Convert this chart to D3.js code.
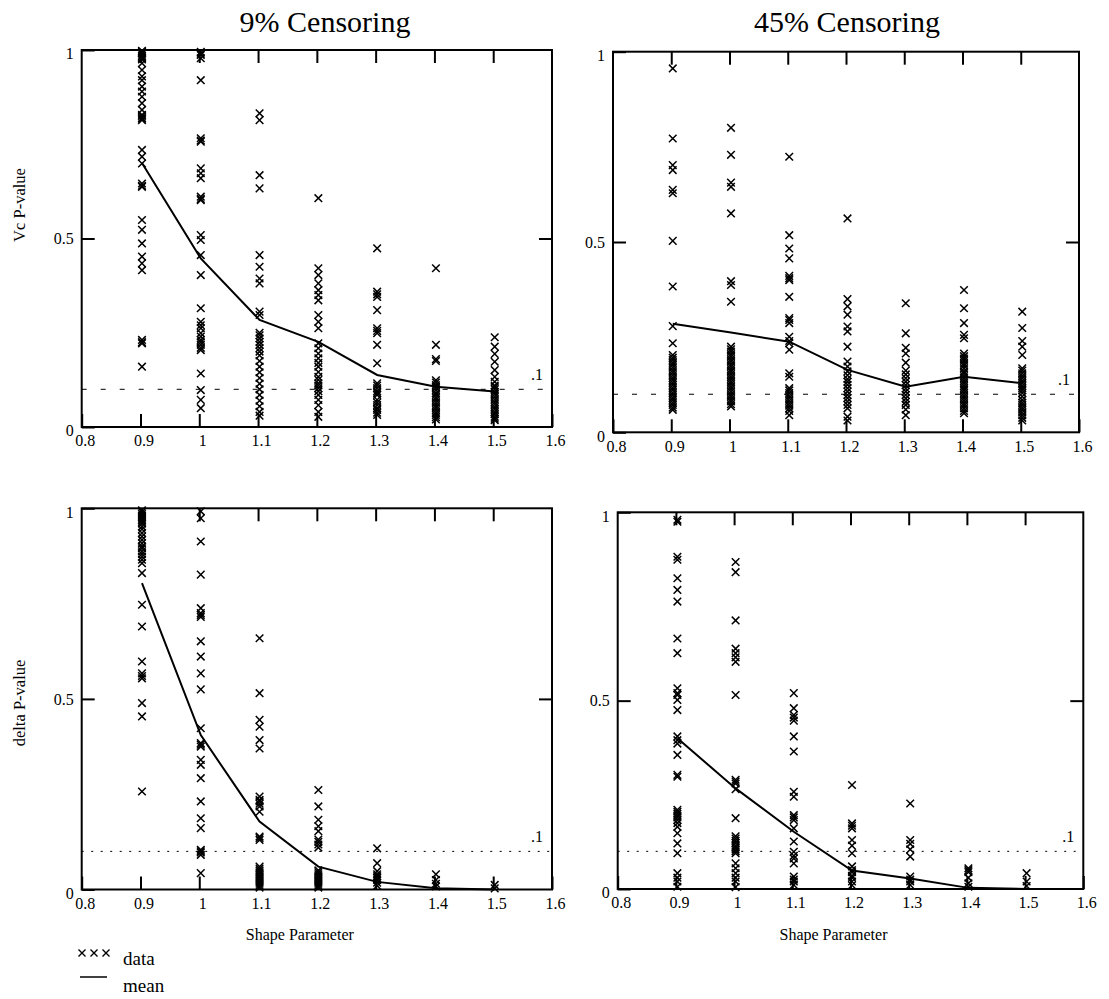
<!DOCTYPE html>
<html>
<head>
<meta charset="utf-8">
<script src="https://cdn.jsdelivr.net/npm/d3@7/dist/d3.min.js"></script>
<style>
  html, body { margin: 0; padding: 0; background: #fff; }
  svg { display: block; }
  text { font-family: "Liberation Serif", "Times New Roman", serif; fill: #000; }
</style>
</head>
<body>
<svg id="chart" width="1109" height="999"></svg>
<script>
// ---------- data ----------
const shapes = [0.9, 1.0, 1.1, 1.2, 1.3, 1.4, 1.5];
const xTicks = [0.8, 0.9, 1.0, 1.1, 1.2, 1.3, 1.4, 1.5, 1.6];
const xTickLabels = ["0.8", "0.9", "1", "1.1", "1.2", "1.3", "1.4", "1.5", "1.6"];
const yTicks = [0, 0.5, 1];
const yTickLabels = ["0", "0.5", "1"];
const titles = ["9% Censoring", "45% Censoring"];
const yLabels = ["Vc P-value", "delta P-value"];
const xLabel = "Shape Parameter";
const refLevel = 0.1;

// Vc p-values, 9% censoring (one list per shape parameter)
const vc9 = [
  [0.998, 0.995, 0.992, 0.99, 0.985, 0.98, 0.978, 0.975, 0.965, 0.947, 0.93, 0.92, 0.903, 0.89, 0.876, 0.859, 0.841, 0.828, 0.825, 0.82, 0.818, 0.814, 0.735, 0.717, 0.699, 0.646, 0.64, 0.637, 0.549, 0.523, 0.487, 0.452, 0.434, 0.416, 0.231, 0.225, 0.222, 0.16],
  [0.995, 0.99, 0.987, 0.978, 0.92, 0.766, 0.76, 0.757, 0.686, 0.673, 0.66, 0.611, 0.605, 0.602, 0.509, 0.496, 0.456, 0.403, 0.315, 0.279, 0.27, 0.262, 0.249, 0.24, 0.231, 0.225, 0.218, 0.21, 0.204, 0.142, 0.098, 0.072, 0.05],
  [0.832, 0.814, 0.668, 0.633, 0.456, 0.425, 0.394, 0.381, 0.306, 0.297, 0.25, 0.243, 0.235, 0.226, 0.218, 0.209, 0.2, 0.19, 0.175, 0.16, 0.145, 0.13, 0.115, 0.1, 0.085, 0.07, 0.055, 0.04, 0.03],
  [0.607, 0.421, 0.403, 0.381, 0.363, 0.35, 0.336, 0.297, 0.279, 0.262, 0.222, 0.209, 0.195, 0.182, 0.17, 0.16, 0.146, 0.133, 0.125, 0.116, 0.11, 0.103, 0.095, 0.085, 0.072, 0.058, 0.04, 0.027],
  [0.474, 0.359, 0.352, 0.345, 0.31, 0.262, 0.255, 0.249, 0.218, 0.169, 0.116, 0.11, 0.103, 0.095, 0.09, 0.085, 0.072, 0.065, 0.058, 0.05, 0.045, 0.038, 0.032],
  [0.421, 0.218, 0.18, 0.175, 0.124, 0.118, 0.111, 0.105, 0.098, 0.09, 0.085, 0.078, 0.072, 0.065, 0.058, 0.052, 0.045, 0.038, 0.032, 0.026, 0.02],
  [0.238, 0.213, 0.194, 0.173, 0.151, 0.133, 0.12, 0.11, 0.106, 0.1, 0.093, 0.087, 0.08, 0.073, 0.066, 0.06, 0.053, 0.047, 0.04, 0.034, 0.027, 0.022, 0.018]
];
const vc9Mean = [0.70, 0.447, 0.284, 0.226, 0.138, 0.107, 0.094];

// Vc p-values, 45% censoring
const vc45 = [
  [0.956, 0.772, 0.702, 0.689, 0.637, 0.628, 0.503, 0.383, 0.279, 0.234, 0.203, 0.196, 0.19, 0.183, 0.177, 0.17, 0.163, 0.157, 0.15, 0.143, 0.137, 0.13, 0.124, 0.117, 0.111, 0.104, 0.098, 0.091, 0.085, 0.078, 0.072, 0.065, 0.059],
  [0.8, 0.729, 0.656, 0.645, 0.575, 0.397, 0.387, 0.343, 0.225, 0.218, 0.212, 0.205, 0.199, 0.192, 0.186, 0.179, 0.173, 0.166, 0.16, 0.153, 0.146, 0.14, 0.133, 0.127, 0.12, 0.114, 0.107, 0.1, 0.094, 0.087, 0.081, 0.074, 0.068],
  [0.724, 0.518, 0.483, 0.457, 0.411, 0.405, 0.4, 0.356, 0.3, 0.295, 0.287, 0.251, 0.24, 0.234, 0.217, 0.155, 0.146, 0.116, 0.11, 0.103, 0.096, 0.09, 0.083, 0.076, 0.07, 0.063, 0.056, 0.045],
  [0.562, 0.35, 0.331, 0.309, 0.278, 0.265, 0.225, 0.186, 0.173, 0.16, 0.15, 0.14, 0.133, 0.125, 0.116, 0.107, 0.098, 0.09, 0.081, 0.072, 0.063, 0.041, 0.031],
  [0.339, 0.26, 0.222, 0.207, 0.183, 0.162, 0.152, 0.142, 0.133, 0.124, 0.115, 0.107, 0.098, 0.089, 0.08, 0.072, 0.06, 0.045],
  [0.374, 0.326, 0.287, 0.256, 0.247, 0.207, 0.2, 0.194, 0.188, 0.181, 0.175, 0.168, 0.16, 0.155, 0.148, 0.142, 0.135, 0.129, 0.122, 0.116, 0.11, 0.103, 0.096, 0.09, 0.083, 0.076, 0.07, 0.063, 0.056, 0.05],
  [0.317, 0.274, 0.24, 0.225, 0.203, 0.168, 0.162, 0.155, 0.148, 0.142, 0.135, 0.129, 0.122, 0.116, 0.11, 0.103, 0.094, 0.085, 0.078, 0.072, 0.065, 0.059, 0.052, 0.045, 0.038, 0.031]
];
const vc45Mean = [0.285, 0.262, 0.238, 0.164, 0.120, 0.146, 0.129];

// delta p-values, 9% censoring
const delta9 = [
  [0.995, 0.99, 0.985, 0.98, 0.975, 0.97, 0.965, 0.96, 0.952, 0.945, 0.935, 0.926, 0.917, 0.908, 0.9, 0.895, 0.887, 0.88, 0.873, 0.865, 0.856, 0.83, 0.747, 0.69, 0.598, 0.567, 0.56, 0.554, 0.489, 0.454, 0.257],
  [0.992, 0.974, 0.913, 0.826, 0.738, 0.725, 0.72, 0.715, 0.651, 0.611, 0.567, 0.525, 0.423, 0.384, 0.38, 0.375, 0.34, 0.327, 0.292, 0.231, 0.187, 0.161, 0.104, 0.1, 0.097, 0.091, 0.043],
  [0.659, 0.515, 0.445, 0.427, 0.392, 0.37, 0.244, 0.235, 0.231, 0.225, 0.218, 0.204, 0.139, 0.135, 0.13, 0.06, 0.055, 0.05, 0.045, 0.04, 0.035, 0.03, 0.025, 0.02, 0.015, 0.01, 0.005],
  [0.261, 0.218, 0.183, 0.166, 0.153, 0.131, 0.125, 0.118, 0.11, 0.05, 0.045, 0.04, 0.035, 0.03, 0.025, 0.02, 0.015, 0.01, 0.005],
  [0.108, 0.069, 0.048, 0.04, 0.035, 0.03, 0.025, 0.018, 0.01],
  [0.04, 0.025, 0.015, 0.008],
  [0.012, 0.003]
];
const delta9Mean = [0.804, 0.405, 0.178, 0.06, 0.02, 0.003, 0.0];

// delta p-values, 45% censoring
const delta45 = [
  [0.98, 0.975, 0.882, 0.874, 0.825, 0.794, 0.763, 0.665, 0.626, 0.533, 0.52, 0.515, 0.502, 0.475, 0.405, 0.395, 0.386, 0.356, 0.303, 0.298, 0.21, 0.205, 0.2, 0.195, 0.19, 0.183, 0.175, 0.165, 0.148, 0.121, 0.095, 0.042, 0.03, 0.02, 0.006],
  [0.868, 0.841, 0.713, 0.638, 0.626, 0.615, 0.603, 0.515, 0.29, 0.285, 0.28, 0.265, 0.188, 0.14, 0.134, 0.128, 0.122, 0.115, 0.11, 0.105, 0.1, 0.095, 0.068, 0.055, 0.042, 0.03, 0.02, 0.005],
  [0.52, 0.48, 0.462, 0.455, 0.447, 0.405, 0.365, 0.258, 0.245, 0.196, 0.19, 0.183, 0.161, 0.126, 0.099, 0.088, 0.081, 0.068, 0.033, 0.025, 0.02, 0.011],
  [0.276, 0.174, 0.168, 0.161, 0.13, 0.115, 0.095, 0.06, 0.05, 0.045, 0.035, 0.03, 0.02, 0.01],
  [0.227, 0.13, 0.12, 0.105, 0.086, 0.033, 0.025, 0.02, 0.011],
  [0.055, 0.05, 0.045, 0.03, 0.015, 0.006],
  [0.042, 0.02, 0.008]
];
const delta45Mean = [0.40, 0.267, 0.152, 0.049, 0.028, 0.003, 0.0];

const legendLabels = ["data", "mean"];

// ---------- layout ----------
const panels = [
  { data: vc9,     mean: vc9Mean,     box: [81.7, 552, 50, 427],      title: titles[0], titleX: 325, yLabel: yLabels[0], yLabelY: 205, dash: "5,14", xlab: false },
  { data: vc45,    mean: vc45Mean,    box: [613, 1079, 51.7, 432.3],  title: titles[1], titleX: 847, yLabel: null,       yLabelY: 0,   dash: "5,14", xlab: false },
  { data: delta9,  mean: delta9Mean,  box: [81.7, 552, 508.3, 889.5], title: null,      titleX: 0,   yLabel: yLabels[1], yLabelY: 703, dash: "2,7.5", xlab: true },
  { data: delta45, mean: delta45Mean, box: [617.7, 1083.3, 512.3, 889], title: null,    titleX: 0,   yLabel: null,       yLabelY: 0,   dash: "2,7.5", xlab: true }
];

const svg = d3.select("#chart");
const xPush = 1.5; // markers sit slightly right of tick
const cross = "M-3.8,-3.8L3.8,3.8M3.8,-3.8L-3.8,3.8";

panels.forEach(p => {
  const [x0, x1, y0, y1] = p.box;
  const x = d3.scaleLinear().domain([0.8, 1.6]).range([x0, x1]);
  const y = d3.scaleLinear().domain([0, 1]).range([y1, y0]);
  const g = svg.append("g");

  // reference line at .1
  g.append("line")
    .attr("x1", x(0.8)).attr("x2", x(1.6))
    .attr("y1", y(refLevel)).attr("y2", y(refLevel))
    .attr("stroke", "#000").attr("stroke-width", 1)
    .attr("stroke-dasharray", p.dash);
  g.append("text")
    .attr("x", x(1.6) - 15).attr("y", y(refLevel) - 9)
    .attr("text-anchor", "middle").attr("font-size", 16)
    .text(".1");

  // data crosses
  shapes.forEach((s, i) => {
    g.selectAll(null).data(p.data[i]).enter().append("path")
      .attr("d", cross)
      .attr("transform", v => `translate(${x(s) + xPush},${y(v)})`)
      .attr("stroke", "#000").attr("stroke-width", 1.5).attr("fill", "none");
  });

  // mean line
  const line = d3.line().x((m, i) => x(shapes[i]) + xPush).y(m => y(m));
  g.append("path").datum(p.mean).attr("d", line)
    .attr("fill", "none").attr("stroke", "#000").attr("stroke-width", 2);

  // axes with inward ticks
  const axB = d3.axisBottom(x).tickValues(xTicks)
    .tickFormat((d, i) => xTickLabels[i]).tickSizeInner(-13).tickSizeOuter(0).tickPadding(8);
  const gb = g.append("g").attr("transform", `translate(0,${y1})`).call(axB);
  const axT = d3.axisTop(x).tickValues(xTicks.slice(1, -1)).tickFormat("").tickSizeInner(-13).tickSizeOuter(0);
  const gt = g.append("g").attr("transform", `translate(0,${y0})`).call(axT);
  const axL = d3.axisLeft(y).tickValues(yTicks)
    .tickFormat((d, i) => yTickLabels[i]).tickSizeInner(-13).tickSizeOuter(0).tickPadding(8);
  const gl = g.append("g").attr("transform", `translate(${x0},0)`).call(axL);
  const axR = d3.axisRight(y).tickValues([0.5]).tickFormat("").tickSizeInner(-13).tickSizeOuter(0);
  const gr = g.append("g").attr("transform", `translate(${x1},0)`).call(axR);

  [gb, gt, gl, gr].forEach(a => {
    a.attr("font-family", null);
    a.select(".domain").remove();
    a.selectAll(".tick line").attr("stroke", "#000").attr("stroke-width", 2);
    a.selectAll("text").attr("font-size", 16).attr("fill", "#000");
  });
  gb.selectAll("text").attr("dx", 3);
  gl.selectAll(".tick").filter(d => d === 1).select("text").attr("dy", "0.55em");
  gl.selectAll(".tick").filter(d => d === 0).select("text").attr("dy", "0.55em");

  // frame
  g.append("rect").attr("x", x0).attr("y", y0)
    .attr("width", x1 - x0).attr("height", y1 - y0)
    .attr("fill", "none").attr("stroke", "#000").attr("stroke-width", 2);

  if (p.title) {
    g.append("text").attr("x", p.titleX).attr("y", 32)
      .attr("text-anchor", "middle").attr("font-size", 30).text(p.title);
  }
  if (p.yLabel) {
    g.append("text")
      .attr("transform", `translate(25,${p.yLabelY}) rotate(-90)`)
      .attr("text-anchor", "middle").attr("font-size", 16.5).text(p.yLabel);
  }
  if (p.xlab) {
    g.append("text").attr("x", (x0 + x1) / 2 - 17).attr("y", 940)
      .attr("text-anchor", "middle").attr("font-size", 16).text(xLabel);
  }
});

// legend
const lg = svg.append("g");
[0, 1, 2].forEach(k => {
  lg.append("path").attr("d", "M-3.5,-3.5L3.5,3.5M3.5,-3.5L-3.5,3.5")
    .attr("transform", `translate(${82 + k * 12},953)`)
    .attr("stroke", "#000").attr("stroke-width", 1.4).attr("fill", "none");
});
lg.append("text").attr("x", 123).attr("y", 965).attr("font-size", 19).text(legendLabels[0]);
lg.append("line").attr("x1", 80).attr("x2", 107).attr("y1", 977).attr("y2", 977)
  .attr("stroke", "#000").attr("stroke-width", 1.5);
lg.append("text").attr("x", 123).attr("y", 992).attr("font-size", 19).text(legendLabels[1]);
</script>
</body>
</html>
